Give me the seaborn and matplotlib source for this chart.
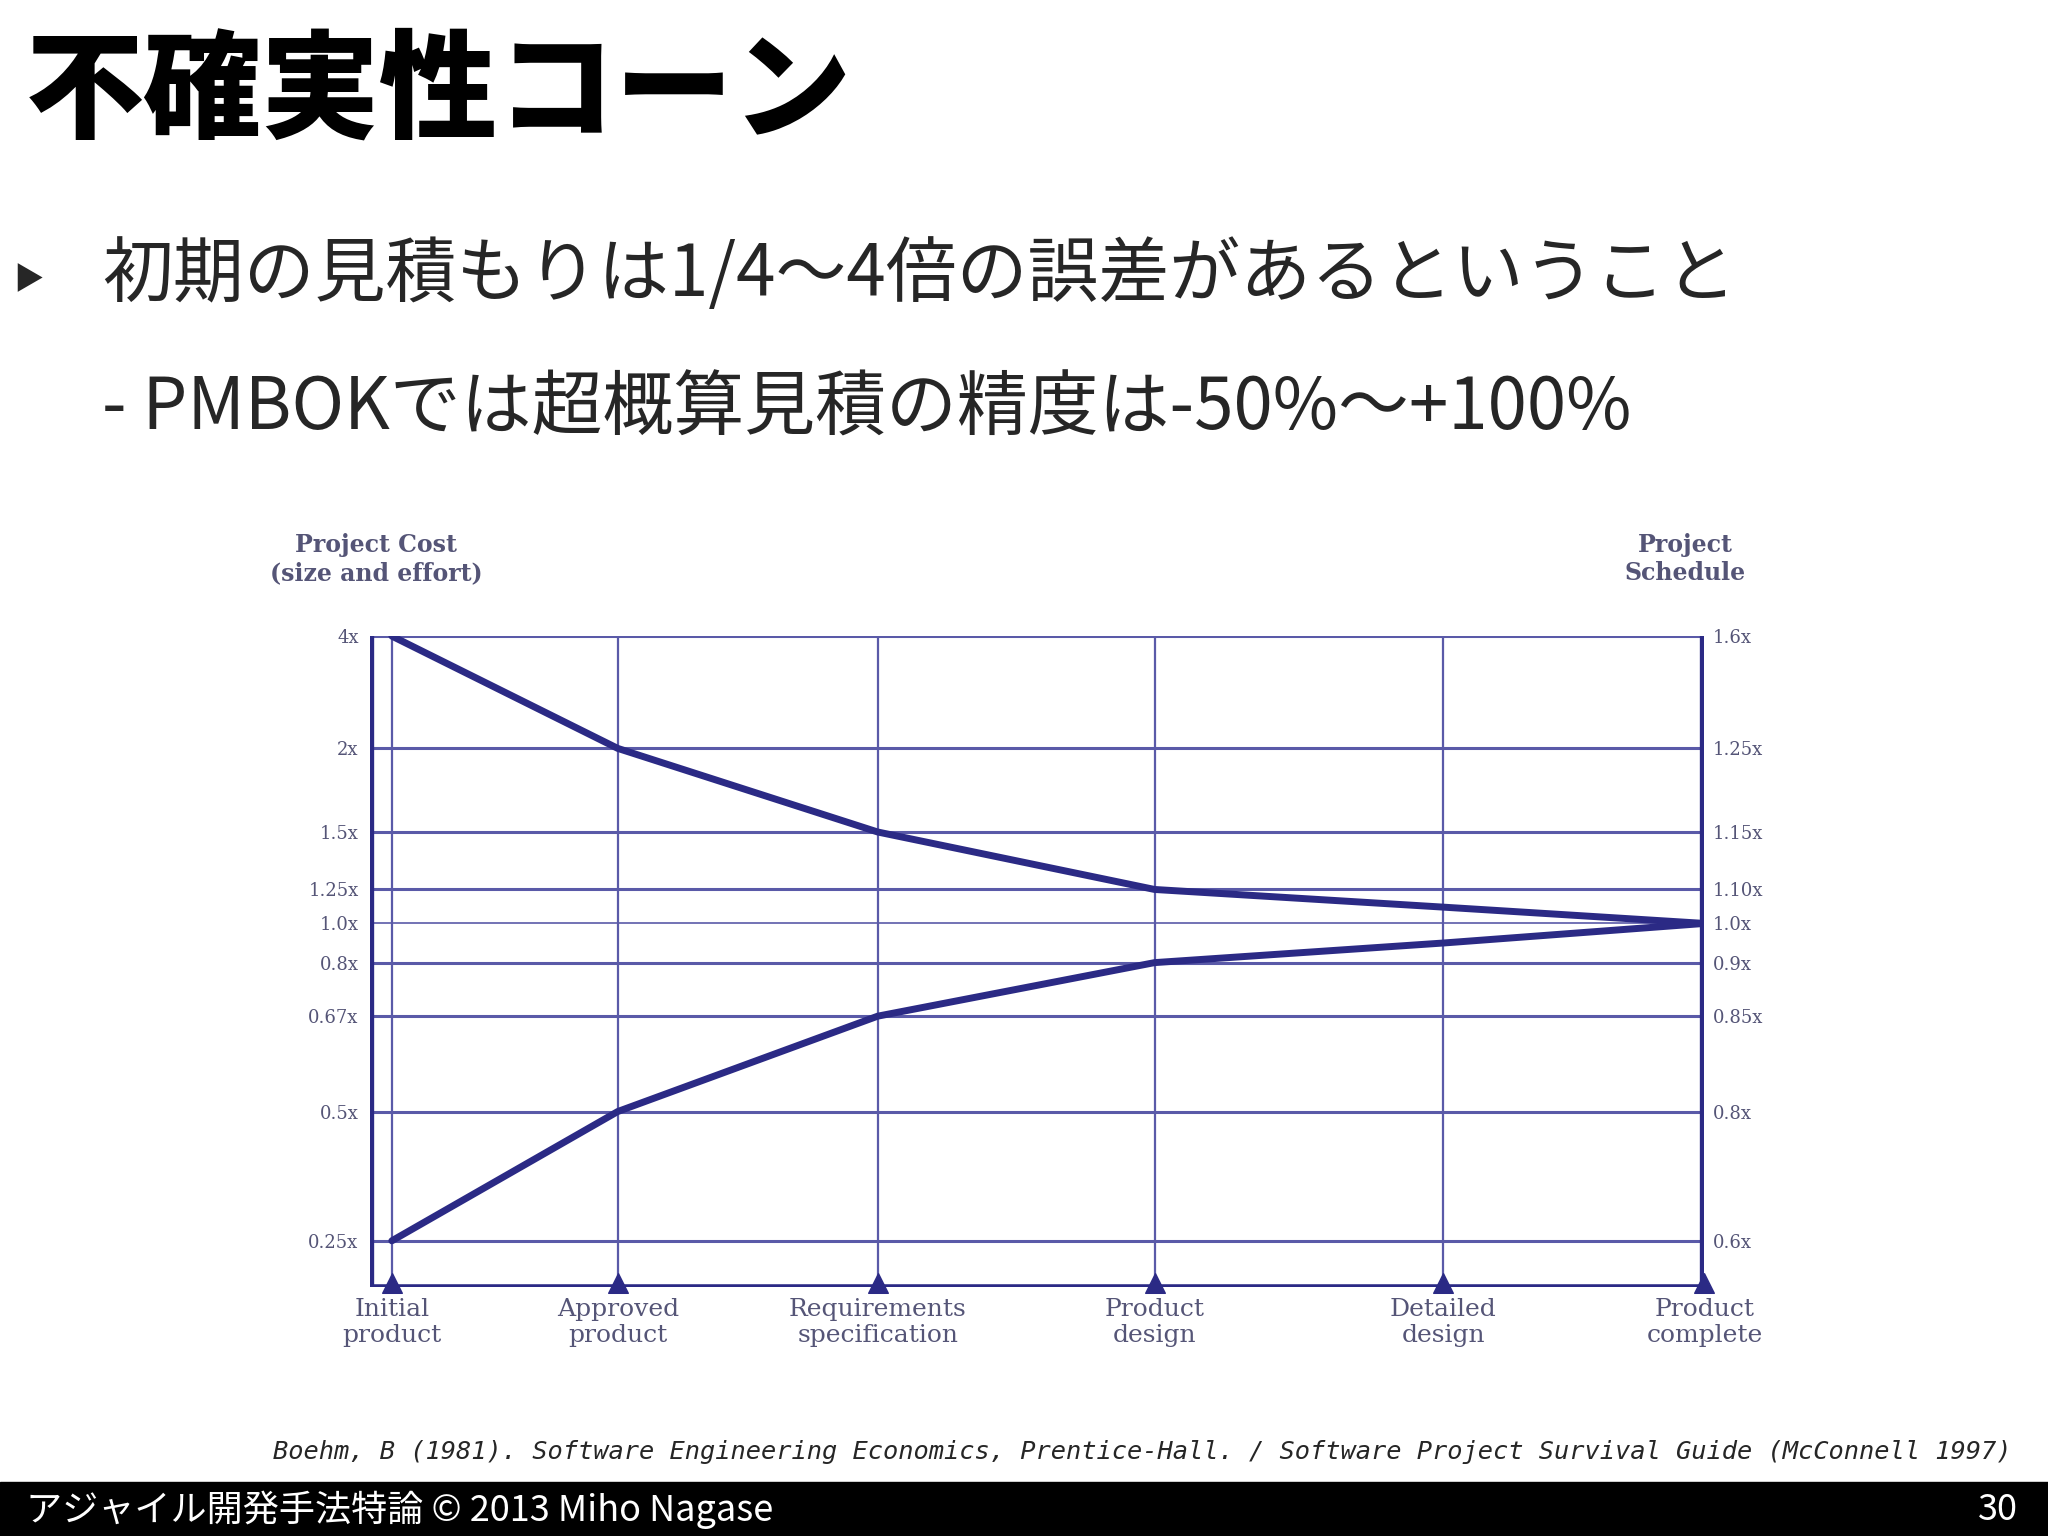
import numpy as np
import matplotlib
matplotlib.use("Agg")
import matplotlib.pyplot as plt
import seaborn as sns
import pandas as pd

sns.set_style("white")
plt.rcParams['font.family'] = ['Noto Sans CJK JP', 'DejaVu Sans']

milestones = ["Initial\nproduct", "Approved\nproduct", "Requirements\nspecification",
              "Product\ndesign", "Detailed\ndesign", "Product\ncomplete"]
upper = [4.0, 2.0, 1.5, 1.25, 1.12, 1.0]
lower = [0.25, 0.5, 0.67, 0.8, 0.9, 1.0]
left_ticks = [0.25, 0.5, 0.67, 0.8, 1.0, 1.25, 1.5, 2.0, 4.0]
left_labels = ["0.25x", "0.5x", "0.67x", "0.8x", "1.0x", "1.25x", "1.5x", "2x", "4x"]
right_labels = ["0.6x", "0.8x", "0.85x", "0.9x", "1.0x", "1.10x", "1.15x", "1.25x", "1.6x"]
# visual spacing of the original cone chart (scale definition)
y_vis = [35, 134, 207, 248, 278, 304, 348, 412, 498]
x_idx = [0, 1, 2, 3, 4, 5]
x_vis = [17, 190, 389, 601, 822, 1022]

NAVY = "#2b2a85"
GRID = "#5a5aa8"

fig = plt.figure(figsize=(20.48, 15.36), dpi=100)
W, H = 1568, 1176
ax = fig.add_axes([283/W, 1-985/H, (1305-283)/W, (985-487)/H])

yfun = (lambda v: np.interp(v, [0.0] + left_ticks, [0] + y_vis), lambda p: np.interp(p, [0] + y_vis, [0.0] + left_ticks))
ax.set_yscale('function', functions=yfun)
ax.set_xscale('function', functions=(lambda v: np.interp(v, [-0.2] + x_idx, [0] + x_vis), lambda p: np.interp(p, [0] + x_vis, [-0.2] + x_idx)))
ax.set_ylim(0.0, 4.0)
ax.set_xlim(-0.2, 5)

for t in left_ticks:
    ax.axhline(t, color=GRID, lw=2.2 if t != 1.0 else 1.2, zorder=1)
for x in x_idx:
    ax.axvline(x, color=GRID, lw=1.6, zorder=1)

df = pd.DataFrame({"x": x_idx * 2, "y": upper + lower, "s": ["u"] * 6 + ["l"] * 6})
sns.lineplot(data=df, x="x", y="y", units="s", estimator=None, color=NAVY, lw=5, ax=ax, zorder=3)
ax.scatter(x_idx, [0.02] * 6, marker="^", s=200, color=NAVY, zorder=4, clip_on=False)

for s in ax.spines.values():
    s.set_visible(False)
ax.axvline(-0.2, color=NAVY, lw=6)
ax.axvline(5, color=NAVY, lw=6)
ax.axhline(0.0, color=NAVY, lw=4)

ax.set_yticks(left_ticks)
ax.set_yticklabels(left_labels, fontsize=13, color="#555577", family="DejaVu Serif")
ax.set_xticks(x_idx)
ax.set_xticklabels(milestones, fontsize=18, color="#555577", family="DejaVu Serif")
ax.tick_params(length=0, pad=8)
ax.set_xlabel(""); ax.set_ylabel("")
ax2 = ax.twinx()
ax2.set_yscale('function', functions=yfun)
ax2.set_ylim(ax.get_ylim())
ax2.set_yticks(left_ticks)
ax2.set_yticklabels(right_labels, fontsize=13, color="#555577", family="DejaVu Serif")
ax2.tick_params(length=0, pad=6)
for s in ax2.spines.values():
    s.set_visible(False)

fig.text(288/W, 1-428/H, "Project Cost\n(size and effort)", ha="center", va="center",
         fontsize=17, fontweight="bold", color="#555577", family="DejaVu Serif")
fig.text(1290/W, 1-428/H, "Project\nSchedule", ha="center", va="center",
         fontsize=17, fontweight="bold", color="#555577", family="DejaVu Serif")

fig.text(20/W, 1-72/H, "不確実性コーン", fontsize=85, fontweight="black", va="center", ha="left", color="black")
fig.text(10/W, 1-215/H, "▶", fontsize=22, va="center", ha="left")
fig.text(78/W, 1-211/H, "初期の見積もりは1/4〜4倍の誤差があるということ", fontsize=51, va="center", ha="left")
fig.text(78/W, 1-313/H, "- PMBOKでは超概算見積の精度は-50%〜+100%", fontsize=51, va="center", ha="left")
fig.text(1540/W, 1-1112/H,
         "Boehm, B (1981). Software Engineering Economics, Prentice-Hall. / Software Project Survival Guide (McConnell 1997)",
         fontsize=18.3, style="italic", family="DejaVu Sans Mono", ha="right", va="center")

fig.patches.append(matplotlib.patches.Rectangle((0, 0), 1, 41/H, transform=fig.transFigure, color="black", zorder=0))
fig.text(20/W, 20/H, "アジャイル開発手法特論 © 2013 Miho Nagase", color="white", fontsize=26, va="center", ha="left")
fig.text(1545/W, 20/H, "30", color="white", fontsize=26, va="center", ha="right")

fig.savefig("out.png", dpi=100, facecolor="white")
